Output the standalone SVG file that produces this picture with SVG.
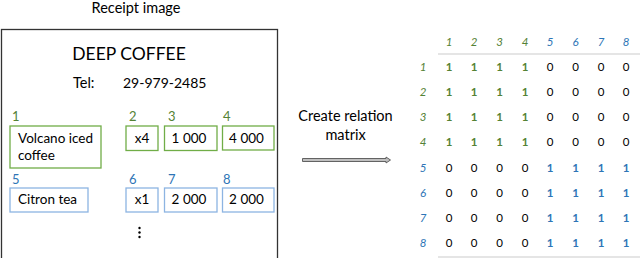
<svg xmlns="http://www.w3.org/2000/svg" width="640" height="258" viewBox="0 0 640 258">
<style>
text{font-family:Lato,"Open Sans","Liberation Sans",sans-serif;fill:#000}
.t13{font-size:14.5px}
.g{fill:#548235}
.b{fill:#2E75B6}
.gb{fill:none;stroke:#70AD47;stroke-width:1.3}
.bb{fill:none;stroke:#8DB4E2;stroke-width:1.3}
.lab{font-size:13px}
.box{font-size:13.5px}
.hd{font-size:11.5px;font-style:italic;text-anchor:middle}
.v{font-size:11.5px;text-anchor:middle}
.v1{font-weight:bold}
.rule{stroke:#CCCCCC;stroke-width:1.2}
</style>
<rect width="640" height="258" fill="#fff"/>
<g id="receipt">
<text x="136" y="13" font-size="14.5" text-anchor="middle">Receipt image</text>
<rect x="1.5" y="29.5" width="276" height="230" fill="none" stroke="#333" stroke-width="1.3"/>
<text x="129" y="60" font-size="17.5" text-anchor="middle">DEEP COFFEE</text>
<text x="73" y="88" font-size="14.5">Tel:</text>
<text x="123" y="88" font-size="14">29-979-2485</text>
</g>
<g id="node1"><text x="12" y="121" class="lab g">1</text><rect x="10" y="126" width="91" height="42" class="gb"/><text x="18" y="143" class="box">Volcano iced</text><text x="18" y="159.5" class="box">coffee</text></g>
<g id="node2"><text x="129" y="121" class="lab g">2</text><rect x="126" y="126" width="32" height="24.5" class="gb"/><text x="142" y="143" class="box" text-anchor="middle">x4</text></g>
<g id="node3"><text x="168" y="121" class="lab g">3</text><rect x="164.5" y="126" width="52.5" height="24.5" class="gb"/><text x="189" y="143" class="box" text-anchor="middle">1 000</text></g>
<g id="node4"><text x="223" y="121" class="lab g">4</text><rect x="222.5" y="126" width="51.5" height="24" class="gb"/><text x="246.5" y="143" class="box" text-anchor="middle">4 000</text></g>
<g id="node5"><text x="12" y="184" class="lab b">5</text><rect x="10" y="188" width="78" height="24" class="bb"/><text x="18" y="204" class="box">Citron tea</text></g>
<g id="node6"><text x="129" y="184" class="lab b">6</text><rect x="126" y="188" width="32" height="24" class="bb"/><text x="142" y="204" class="box" text-anchor="middle">x1</text></g>
<g id="node7"><text x="168" y="184" class="lab b">7</text><rect x="164.5" y="188" width="52.5" height="24" class="bb"/><text x="189" y="204" class="box" text-anchor="middle">2 000</text></g>
<g id="node8"><text x="223" y="184" class="lab b">8</text><rect x="222.5" y="188" width="51.5" height="24" class="bb"/><text x="246.5" y="204" class="box" text-anchor="middle">2 000</text></g>
<g id="dots"><circle cx="139.5" cy="228" r="1.2" fill="#000"/><circle cx="139.5" cy="232.5" r="1.2" fill="#000"/><circle cx="139.5" cy="237" r="1.2" fill="#000"/></g>
<g id="connectors">
<text x="345.5" y="121" class="t13" text-anchor="middle">Create relation</text>
<text x="345.5" y="140" class="t13" text-anchor="middle">matrix</text>
<path d="M302.5,158.5 H386 V157 L390.5,160 L386,163 V161.5 H302.5 Z" fill="#BFBFBF" stroke="#555" stroke-width="0.9"/>
</g>
<g id="matrix">
<line x1="438" y1="54" x2="640" y2="54" class="rule"/>
<line x1="438" y1="257" x2="640" y2="257" class="rule"/>
<g class="hd">
<text x="449" y="46" class="g">1</text><text x="474" y="46" class="g">2</text><text x="499.5" y="46" class="g">3</text><text x="525" y="46" class="g">4</text>
<text x="550" y="46" class="b">5</text><text x="575.5" y="46" class="b">6</text><text x="601" y="46" class="b">7</text><text x="626" y="46" class="b">8</text>
<text x="423" y="71" class="g">1</text><text x="423" y="96" class="g">2</text><text x="423" y="121" class="g">3</text><text x="423" y="146" class="g">4</text>
<text x="423" y="172" class="b">5</text><text x="423" y="197" class="b">6</text><text x="423" y="222" class="b">7</text><text x="423" y="247" class="b">8</text>
</g>
<g class="v">
<text x="449" y="71" class="g v1">1</text><text x="474" y="71" class="g v1">1</text><text x="499.5" y="71" class="g v1">1</text><text x="525" y="71" class="g v1">1</text><text x="550" y="71">0</text><text x="575.5" y="71">0</text><text x="601" y="71">0</text><text x="626" y="71">0</text>
<text x="449" y="96" class="g v1">1</text><text x="474" y="96" class="g v1">1</text><text x="499.5" y="96" class="g v1">1</text><text x="525" y="96" class="g v1">1</text><text x="550" y="96">0</text><text x="575.5" y="96">0</text><text x="601" y="96">0</text><text x="626" y="96">0</text>
<text x="449" y="121" class="g v1">1</text><text x="474" y="121" class="g v1">1</text><text x="499.5" y="121" class="g v1">1</text><text x="525" y="121" class="g v1">1</text><text x="550" y="121">0</text><text x="575.5" y="121">0</text><text x="601" y="121">0</text><text x="626" y="121">0</text>
<text x="449" y="146" class="g v1">1</text><text x="474" y="146" class="g v1">1</text><text x="499.5" y="146" class="g v1">1</text><text x="525" y="146" class="g v1">1</text><text x="550" y="146">0</text><text x="575.5" y="146">0</text><text x="601" y="146">0</text><text x="626" y="146">0</text>
<text x="449" y="172">0</text><text x="474" y="172">0</text><text x="499.5" y="172">0</text><text x="525" y="172">0</text><text x="550" y="172" class="b v1">1</text><text x="575.5" y="172" class="b v1">1</text><text x="601" y="172" class="b v1">1</text><text x="626" y="172" class="b v1">1</text>
<text x="449" y="197">0</text><text x="474" y="197">0</text><text x="499.5" y="197">0</text><text x="525" y="197">0</text><text x="550" y="197" class="b v1">1</text><text x="575.5" y="197" class="b v1">1</text><text x="601" y="197" class="b v1">1</text><text x="626" y="197" class="b v1">1</text>
<text x="449" y="222">0</text><text x="474" y="222">0</text><text x="499.5" y="222">0</text><text x="525" y="222">0</text><text x="550" y="222" class="b v1">1</text><text x="575.5" y="222" class="b v1">1</text><text x="601" y="222" class="b v1">1</text><text x="626" y="222" class="b v1">1</text>
<text x="449" y="247">0</text><text x="474" y="247">0</text><text x="499.5" y="247">0</text><text x="525" y="247">0</text><text x="550" y="247" class="b v1">1</text><text x="575.5" y="247" class="b v1">1</text><text x="601" y="247" class="b v1">1</text><text x="626" y="247" class="b v1">1</text>
</g>
</g>
</svg>
